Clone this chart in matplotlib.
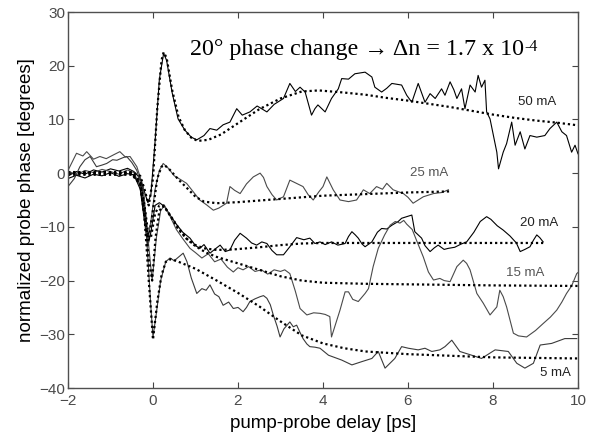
import matplotlib
matplotlib.use("Agg")
import matplotlib.pyplot as plt

# ---------------- data (ps, degrees) ----------------
t50 = [-2.0,-1.8,-1.6,-1.4,-1.2,-1.0,-0.8,-0.6,-0.45,-0.3,-0.2,-0.12,-0.05,0.05,0.15,0.25,0.32,0.45,0.59,0.75,0.9,1.03,1.2,1.34,1.5,1.65,1.81,1.97,2.1,2.28,2.45,2.68,2.85,3.07,3.22,3.35,3.46,3.58,3.73,3.81,3.88,4.05,4.2,4.36,4.44,4.6,4.75,4.99,5.15,5.22,5.38,5.5,5.62,5.85,5.97,6.09,6.24,6.4,6.52,6.64,6.79,6.87,6.99,7.08,7.15,7.26,7.34,7.46,7.58,7.65,7.73,7.81,7.85,7.93,8.01,8.09,8.13,8.24,8.32,8.44,8.52,8.64,8.75,8.87,9.03,9.22,9.34,9.5,9.62,9.73,9.85,9.93,10.0]
y50 = [-0.5,0.3,-0.2,0.6,0.2,0.8,0.4,0.9,0.3,-1.0,-3.5,-5.5,-4.0,6.0,17.5,22.3,21.0,15.0,10.1,8.0,6.7,6.2,7.0,8.3,8.0,9.0,9.5,12.0,10.8,11.4,12.5,11.4,12.8,13.9,16.7,15.2,16.0,15.1,10.8,12.0,12.7,11.4,13.9,15.7,17.6,17.5,18.5,18.8,17.9,16.0,15.1,15.8,16.7,16.4,14.5,13.2,16.7,13.2,14.8,13.9,15.7,14.5,17.0,15.5,13.9,15.7,12.0,16.4,15.1,18.2,16.0,17.3,11.4,10.1,7.0,3.9,0.8,3.9,5.5,9.5,5.2,7.7,4.5,7.0,6.7,7.0,8.3,9.5,7.7,7.0,3.9,5.2,3.6]
f50x = [-2.0,-0.5,-0.3,-0.2,-0.1,0.0,0.1,0.2,0.25,0.32,0.45,0.6,0.75,0.9,1.05,1.3,1.6,2.0,2.5,3.0,3.5,3.9,4.5,5.0,5.5,6.0,6.5,7.0,7.5,8.0,8.5,9.0,9.5,10.0]
f50y = [0.2,0.2,-0.5,-3.0,-6.0,-1.0,12.0,21.0,22.5,21.5,15.5,10.5,8.0,6.6,6.0,6.2,7.2,9.3,11.9,13.9,15.2,15.4,15.0,14.6,14.0,13.5,12.9,12.3,11.6,10.9,10.3,9.8,9.4,8.9]

t25 = [-2.0,-1.8,-1.6,-1.4,-1.2,-1.0,-0.8,-0.6,-0.45,-0.3,-0.2,-0.12,-0.05,0.05,0.15,0.24,0.35,0.5,0.65,0.79,0.95,1.1,1.26,1.42,1.55,1.73,1.81,1.92,2.05,2.2,2.36,2.52,2.6,2.68,2.8,2.91,3.07,3.22,3.35,3.53,3.65,3.77,3.9,4.0,4.09,4.24,4.4,4.6,4.79,4.95,5.1,5.26,5.4,5.5,5.65,5.89,6.0,6.12,6.36,6.6,6.8,6.95]
y25 = [0.4,-0.3,0.5,0.1,0.7,0.3,-0.2,0.6,0.1,-2.5,-8.0,-12.0,-9.0,-3.0,0.5,1.8,1.0,-0.5,-1.2,-1.9,-3.5,-5.0,-5.9,-6.9,-6.5,-5.6,-2.5,-3.2,-3.8,-2.0,-0.7,0.0,-0.8,-2.5,-4.0,-5.0,-4.4,-1.3,-1.8,-2.5,-4.0,-5.0,-3.5,-2.5,-0.7,-3.1,-5.0,-5.3,-5.0,-3.1,-3.8,-2.5,-3.0,-1.9,-3.1,-3.8,-4.5,-5.6,-4.4,-3.8,-3.6,-3.1]
f25x = [-2.0,-0.5,-0.3,-0.2,-0.1,-0.02,0.1,0.2,0.27,0.4,0.6,0.79,1.0,1.2,1.5,2.0,2.5,3.0,3.5,4.0,5.0,6.0,7.0]
f25y = [0.1,0.1,-1.5,-6.0,-12.0,-8.0,-1.0,1.2,1.5,0.6,-1.2,-2.7,-4.4,-5.3,-5.6,-5.4,-5.1,-4.8,-4.5,-4.2,-3.9,-3.6,-3.4]

t20 = [-2.0,-1.8,-1.6,-1.4,-1.2,-1.0,-0.8,-0.6,-0.45,-0.3,-0.2,-0.12,-0.05,0.05,0.15,0.27,0.4,0.55,0.7,0.87,1.0,1.1,1.2,1.34,1.45,1.58,1.7,1.81,1.92,2.05,2.2,2.32,2.44,2.56,2.68,2.8,2.91,3.07,3.22,3.38,3.55,3.69,3.81,3.93,4.05,4.2,4.35,4.52,4.6,4.68,4.76,4.83,4.92,4.99,5.15,5.28,5.38,5.5,5.62,5.77,5.85,5.97,6.09,6.16,6.32,6.4,6.52,6.62,6.71,6.85,6.95,7.1,7.25,7.38,7.55,7.7,7.85,7.95,8.1,8.24,8.4,8.55,8.64,8.75,8.87,8.95,9.03,9.1,9.18]
y20 = [-1.0,-0.4,-0.9,-0.2,-0.5,0.1,-0.6,-0.1,-0.3,-3.0,-9.0,-13.5,-11.0,-6.0,-5.5,-6.2,-7.8,-9.5,-11.0,-12.1,-13.5,-14.0,-13.3,-14.9,-14.2,-13.4,-14.6,-14.3,-12.5,-11.2,-12.1,-13.0,-13.4,-12.8,-13.1,-14.4,-15.2,-15.2,-13.7,-12.0,-12.4,-12.1,-13.1,-12.8,-13.3,-12.8,-13.4,-13.1,-11.8,-10.9,-11.5,-12.1,-13.2,-13.7,-12.8,-11.0,-10.3,-10.4,-9.7,-9.0,-8.4,-8.1,-7.8,-10.9,-12.1,-13.5,-14.6,-13.9,-13.4,-14.2,-14.0,-13.8,-13.2,-12.8,-11.0,-9.0,-8.1,-8.6,-9.8,-10.6,-11.7,-13.0,-14.6,-14.2,-13.7,-12.5,-11.5,-12.0,-12.8]
f20x = [-2.0,-0.5,-0.3,-0.2,-0.12,-0.05,0.05,0.15,0.27,0.45,0.6,0.79,1.0,1.2,1.5,1.9,2.5,3.0,3.5,4.0,5.0,6.0,7.0,8.0,9.18]
f20y = [-0.3,-0.3,-2.0,-7.0,-12.5,-12.0,-7.5,-6.0,-6.3,-8.5,-10.5,-12.2,-13.4,-14.0,-14.3,-14.2,-13.8,-13.4,-13.1,-13.0,-13.0,-13.0,-13.0,-13.0,-13.0]

t15 = [-2.0,-1.8,-1.65,-1.56,-1.4,-1.25,-1.1,-0.93,-0.78,-0.65,-0.54,-0.38,-0.23,-0.12,-0.02,0.08,0.18,0.27,0.4,0.55,0.7,0.87,1.0,1.15,1.3,1.45,1.6,1.75,1.89,2.0,2.12,2.25,2.4,2.55,2.7,2.85,3.0,3.1,3.22,3.35,3.46,3.62,3.78,3.93,4.05,4.16,4.2,4.3,4.4,4.52,4.6,4.7,4.83,4.99,5.07,5.18,5.3,5.45,5.58,5.7,5.81,5.9,5.97,6.1,6.2,6.36,6.48,6.6,6.75,6.85,6.99,7.15,7.3,7.38,7.46,7.62,7.77,7.93,8.09,8.16,8.24,8.32,8.48,8.6,8.79,9.0,9.18,9.35,9.5,9.62,9.73,9.85,9.97,10.0]
y15 = [0.5,3.7,3.2,4.0,2.6,3.1,2.7,3.4,4.0,3.0,3.1,1.2,-2.5,-12.0,-20.0,-12.0,-7.0,-6.0,-8.0,-10.5,-12.2,-14.0,-14.8,-15.8,-15.0,-16.5,-16.0,-17.5,-18.4,-17.6,-18.0,-17.4,-18.3,-18.0,-18.8,-18.0,-18.3,-18.0,-18.7,-22.0,-25.2,-26.4,-26.0,-26.1,-26.3,-26.7,-30.5,-28.0,-25.5,-22.1,-22.1,-23.5,-23.9,-22.4,-21.5,-17.4,-14.0,-11.5,-9.7,-9.0,-9.3,-8.8,-9.5,-10.5,-12.5,-15.6,-18.4,-19.9,-19.6,-20.0,-20.2,-17.4,-16.2,-16.8,-18.0,-22.4,-24.2,-26.4,-24.9,-21.8,-23.0,-24.9,-29.8,-30.3,-30.5,-29.3,-28.0,-26.8,-25.5,-24.0,-22.4,-21.0,-18.7,-18.5]
f15x = [-2.0,-0.5,-0.3,-0.2,-0.1,-0.02,0.06,0.15,0.25,0.4,0.6,0.8,1.0,1.25,1.5,2.0,2.5,3.0,3.5,4.0,5.0,6.0,7.0,8.0,10.0]
f15y = [0.0,0.0,-2.0,-8.0,-16.0,-20.0,-12.0,-7.0,-6.0,-7.8,-10.2,-12.3,-13.6,-14.8,-15.6,-16.8,-18.0,-19.2,-20.0,-20.4,-20.6,-20.7,-20.8,-20.9,-21.0]

t5 = [-2.0,-1.85,-1.72,-1.6,-1.48,-1.33,-1.2,-1.09,-0.95,-0.85,-0.7,-0.62,-0.5,-0.38,-0.25,-0.15,-0.05,0.0,0.08,0.18,0.3,0.4,0.5,0.62,0.71,0.8,0.9,1.03,1.15,1.25,1.34,1.45,1.55,1.65,1.78,1.89,2.0,2.12,2.2,2.28,2.4,2.52,2.6,2.68,2.76,2.83,2.92,2.99,3.08,3.22,3.3,3.38,3.45,3.53,3.62,3.69,3.81,3.93,4.13,4.44,4.68,4.91,5.15,5.3,5.46,5.69,5.85,6.01,6.24,6.4,6.56,6.75,6.87,7.03,7.22,7.5,7.73,8.05,8.36,8.56,8.75,8.95,9.11,9.38,9.69,9.97]
y5 = [-2.5,-1.0,1.2,2.5,3.1,1.2,1.5,1.8,2.5,2.4,2.9,3.1,2.0,0.5,-3.0,-12.0,-25.0,-30.5,-26.0,-20.0,-16.5,-15.8,-16.3,-15.5,-14.9,-16.5,-19.5,-22.4,-21.5,-21.8,-20.8,-22.5,-23.0,-24.6,-24.0,-25.2,-25.0,-25.8,-25.0,-23.9,-23.4,-23.0,-22.8,-23.3,-24.5,-26.4,-28.5,-30.5,-29.0,-27.7,-28.6,-28.3,-29.5,-30.8,-31.8,-32.3,-32.4,-32.6,-33.9,-34.8,-35.7,-35.1,-34.5,-33.2,-36.3,-34.5,-32.3,-32.6,-32.9,-32.6,-33.2,-32.9,-32.3,-31.1,-33.2,-33.9,-34.5,-32.9,-33.2,-35.4,-36.3,-35.4,-32.0,-31.7,-30.8,-30.8]
f5x = [-2.0,-0.5,-0.3,-0.2,-0.1,0.0,0.1,0.2,0.3,0.42,0.6,1.0,1.5,2.0,2.5,3.0,3.5,4.0,4.5,5.0,6.0,7.0,8.0,10.0]
f5y = [0.0,0.0,-2.0,-8.0,-20.0,-31.0,-24.0,-19.0,-16.5,-16.0,-16.5,-17.8,-20.0,-22.3,-24.8,-27.6,-30.2,-31.7,-32.6,-33.2,-33.7,-34.0,-34.3,-34.5]

labels = ["50 mA", "25 mA", "20 mA", "15 mA", "5 mA"]
label_x = [9.05, 6.5, 9.08, 8.75, 9.47]
label_y = [13.2, 0.1, -9.2, -18.65, -37.2]
x_ticks = [-2, 0, 2, 4, 6, 8, 10]
y_ticks = [-40, -30, -20, -10, 0, 10, 20, 30]
note_main = '20° phase change → Δn = 1.7 x 10'
note_exp = '-4'

# ---------------- drawing ----------------
plt.rcParams['font.family'] = ['Liberation Sans', 'DejaVu Sans']
fig = plt.figure(figsize=(5.89, 4.34), dpi=100)
ax = fig.add_axes([68/589, 46/434, 510/589, 376/434])

traces = [(t50, y50, 'black'), (t25, y25, '#4a4a4a'), (t20, y20, 'black'),
          (t15, y15, '#4a4a4a'), (t5, y5, '#3a3a3a')]
fits = [(f50x, f50y), (f25x, f25y), (f20x, f20y), (f15x, f15y), (f5x, f5y)]
for tx, ty, c in traces:
    ax.plot(tx, ty, color=c, lw=0.8)
for fx, fy in fits:
    ax.plot(fx, fy, color='black', lw=1.6, linestyle=(0, (1, 1.3)))

label_colors = ['#222222', '#555555', '#222222', '#555555', '#222222']
for s, lx, ly, lc in zip(labels, label_x, label_y, label_colors):
    ax.text(lx, ly, s, ha='center', va='center', fontsize=9.5, color=lc)

serif = ['Liberation Serif', 'DejaVu Serif']
t_main = ax.text(0.87, 22.0, note_main, fontsize=17.3, family=serif,
                 ha='left', va='baseline')
ax.annotate(note_exp, xy=(1, 1), xycoords=t_main, xytext=(0.5, 0),
            textcoords='offset points', fontsize=11.5, family=serif,
            ha='left', va='top')

ax.set_xlim(-2, 10)
ax.set_ylim(-40, 30)
ax.set_xticks(x_ticks)
ax.set_yticks(y_ticks)
ax.tick_params(direction='in', top=True, right=True, length=4, width=0.8,
               labelsize=11, labelcolor='#4a4a4a', color='#444444')
ax.tick_params(axis='x', pad=4)
ax.tick_params(axis='y', pad=2)
for sp in ax.spines.values():
    sp.set_color('#505050')
    sp.set_linewidth(1.0)
ax.set_xlabel('pump-probe delay [ps]', fontsize=13.5, labelpad=5)
ax.set_ylabel('normalized probe phase [degrees]', fontsize=13.5, labelpad=3)

fig.savefig('out.png', dpi=100)
